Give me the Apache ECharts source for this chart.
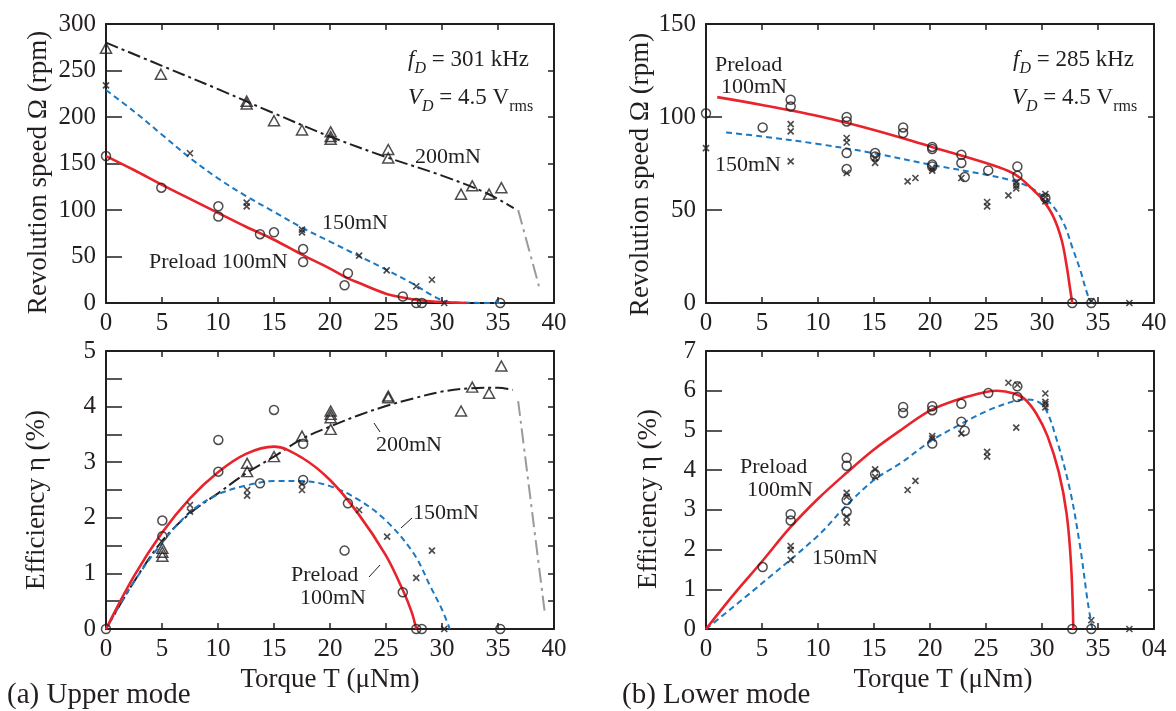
<!DOCTYPE html>
<html>
<head>
<meta charset="utf-8">
<script src="https://cdn.jsdelivr.net/npm/echarts@6/dist/echarts.min.js"></script>
<style>
html,body{margin:0;padding:0;background:#fff;}
#chart{width:1176px;height:711px;}
</style>
</head>
<body>
<div id="chart"></div>
<script>
// ---------- tick labels ----------
const xTickLabelsA = ['0','5','10','15','20','25','30','35','40'];
const xTickLabelsB = ['0','5','10','15','20','25','30','35','04'];

// ---------- (a) Upper mode : revolution speed (rpm) vs torque (uNm) ----------
const upSpdCirc100 = [[0,158],[4.94,124],[10.03,104],[10.03,93],[13.75,74],[15.0,76],[17.6,58],[17.6,44],[21.6,32],[21.3,19],[26.5,7],[27.7,0],[28.2,0],[35.2,0]];
const upSpdCross150 = [[0,234],[7.5,161],[12.56,108],[12.56,104],[17.5,79],[17.5,76],[22.6,51],[25.06,35],[27.7,18],[29.1,25],[30.2,0]];
const upSpdTri200 = [[0,274],[4.9,246],[12.56,217],[12.56,214],[15.0,196],[17.5,186],[20.06,184],[20.06,179],[20.06,176],[25.2,165],[25.2,156],[31.7,117],[32.7,126],[34.2,117],[35.3,124]];
const upSpdFit100 = [[0,158],[2.5,143],[5,127],[7.5,112],[10,97],[12.5,82],[15,68],[17.5,52],[20,37],[21.5,27],[22.5,22],[25,10],[26.5,6],[28,3],[30,1],[32.2,0]];
const upSpdFit150 = [[0,229],[2.5,206],[5,181],[7.5,156],[10,134],[12.5,115],[15,98],[17.5,81],[20,66],[22.5,51],[25,36],[27.5,20],[29,9],[30,3],[31,0.5],[35.5,0]];
const upSpdFit200 = [[0,280],[5,255],[10,230],[15,204],[20,179],[25,157],[30,137],[34,118],[36.4,102]];
const upSpdExt200 = [[36.8,100],[38.75,14]];

// ---------- (a) Upper mode : efficiency (%) ----------
const upEffCirc100 = [[0,0],[5.03,1.95],[5.03,1.67],[10.03,3.40],[10.03,2.83],[13.75,2.62],[15.0,3.94],[17.6,3.33],[17.6,2.68],[21.6,2.26],[21.3,1.41],[26.5,0.66],[27.7,0],[28.2,0],[35.2,0]];
const upEffCross150 = [[7.5,2.23],[7.5,2.11],[12.6,2.50],[12.6,2.40],[17.5,2.61],[17.5,2.50],[22.6,2.14],[25.1,1.66],[27.7,0.92],[29.1,1.41],[30.2,0]];
const upEffTri200 = [[5.03,1.45],[5.03,1.38],[5.03,1.31],[12.6,2.98],[12.6,2.83],[15,3.10],[17.5,3.47],[20.06,3.92],[20.06,3.86],[20.06,3.80],[20.06,3.59],[25.2,4.19],[25.2,4.16],[31.7,3.92],[32.7,4.35],[34.2,4.24],[35.3,4.73]];
const upEffFit100 = [[0,0],[2.5,0.95],[5,1.73],[7.5,2.35],[10,2.82],[12.5,3.15],[15,3.28],[17.5,3.08],[20,2.68],[22.5,2.08],[25,1.32],[26.5,0.7],[27.3,0.3],[27.7,0]];
const upEffFit150 = [[0,0],[2.5,0.85],[5,1.55],[7.5,2.1],[10,2.42],[12.5,2.58],[15,2.66],[17.5,2.66],[20,2.57],[22.5,2.33],[25,1.95],[27.5,1.35],[29,0.75],[30,0.35],[30.7,0]];
const upEffFit200 = [[0,0],[2.5,0.85],[5,1.58],[7.5,2.08],[10,2.44],[12.5,2.8],[15,3.1],[17.5,3.42],[20,3.64],[22.5,3.84],[25,4.01],[27.5,4.15],[30,4.27],[32.5,4.33],[35,4.34],[36.3,4.3]];
const upEffExt200 = [[36.8,4.1],[39.2,0.26]];

// ---------- (b) Lower mode : revolution speed (rpm) ----------
const loSpdCirc100 = [[0,102],[5.06,94.4],[7.56,109.3],[7.56,105.7],[12.56,100],[12.56,97.6],[12.56,80.6],[12.56,72],[15.1,80.6],[15.1,78.8],[17.6,94.4],[17.6,91.4],[20.2,83.9],[20.2,82.8],[20.2,74.4],[20.2,73.4],[22.8,79.7],[22.8,75.3],[23.1,67.7],[25.2,71.3],[27.8,73.4],[27.8,68.4],[30.3,56.5],[32.7,0],[34.4,0]];
const loSpdCross150 = [[0,83.3],[7.56,96.2],[7.56,92.3],[7.56,76.1],[12.56,88.7],[12.56,86.3],[12.56,69.9],[15.1,78],[15.1,75.3],[18.0,65.4],[18.7,67.2],[20.2,72.5],[20.2,71.2],[22.8,67.2],[25.1,54.3],[25.1,51.9],[27,57.9],[27.7,64.8],[27.7,63.1],[27.7,61.6],[30.3,58.6],[30.3,57],[30.3,54.6],[34.4,1],[37.8,0]];
const loSpdFit100 = [[1,110.7],[5,106.5],[10,100.5],[15,93],[20,84.2],[25,75.3],[27,71],[28,67.5],[29,62],[30,56],[31,46.6],[31.75,34],[32.2,20],[32.5,8],[32.7,0]];
const loSpdFit150 = [[1.8,91.7],[5,89.5],[10,85.5],[15,80.5],[20,74.4],[25,69],[27.5,65.5],[29,62],[30,57.5],[31,52],[32,42],[32.7,30],[33.4,18],[34.1,4],[34.5,0]];

// ---------- (b) Lower mode : efficiency (%) ----------
const loEffCirc100 = [[5.06,1.56],[7.56,2.89],[7.56,2.73],[12.56,4.31],[12.56,4.11],[12.56,3.25],[12.56,2.95],[15.1,3.90],[17.6,5.59],[17.6,5.44],[20.2,5.61],[20.2,5.51],[20.2,4.67],[22.8,5.67],[22.8,5.22],[23.1,4.99],[25.2,5.94],[27.8,6.11],[27.8,5.84],[32.7,0],[34.4,0]];
const loEffCross150 = [[7.56,2.09],[7.56,1.99],[7.56,1.74],[12.56,3.43],[12.56,3.33],[12.56,2.83],[12.56,2.68],[15.1,4.02],[15.1,3.83],[18.0,3.50],[18.7,3.73],[20.2,4.86],[20.2,4.80],[22.8,4.92],[25.1,4.46],[25.1,4.34],[27,6.20],[27.7,5.07],[27.8,6.15],[30.3,5.93],[30.3,5.72],[30.3,5.66],[30.3,5.58],[34.4,0.22],[37.8,0]];
const loEffFit100 = [[0,0],[2.5,0.88],[5,1.7],[7.5,2.55],[10,3.28],[12.5,3.92],[15,4.52],[17.5,5.03],[20,5.5],[22.5,5.78],[25,5.97],[26,6.0],[27.5,5.93],[28.5,5.78],[29.5,5.42],[30.5,4.85],[31.5,3.95],[32.2,2.9],[32.6,1.6],[32.8,0]];
const loEffFit150 = [[0,0],[5,1.15],[10,2.35],[12.5,3.1],[15,3.75],[17.5,4.2],[20,4.72],[22.5,5.12],[25,5.48],[27.5,5.74],[28.5,5.78],[29.5,5.74],[30.3,5.55],[31.3,4.78],[32.5,3.5],[33.4,2.08],[34.1,0.65],[34.5,0]];

// ---------- styling ----------
const FONT = "'Liberation Serif','Times New Roman',serif";
const INK = '#231f20';
const RED = '#e8232b';
const BLUE = '#1b78c2';

const chart = echarts.init(document.getElementById('chart'), null, {renderer:'canvas'});

const grids = [
  {left:106, top:24, width:448, height:279},
  {left:106, top:351, width:448, height:278},
  {left:706, top:24, width:448, height:279},
  {left:706, top:351, width:448, height:278}
];

function xPair(gi, labels, name, namePad) {
  const base = {type:'value', gridIndex:gi, min:0, max:40, interval:5, splitLine:{show:false},
    axisLine:{show:true, onZero:false, lineStyle:{color:INK, width:2}},
    axisTick:{show:true, inside:true, length:6, lineStyle:{color:INK, width:1.5}}};
  const bottom = Object.assign({}, base, {position:'bottom',
    axisLabel:{show:true, margin:8, color:INK, fontSize:25, fontFamily:FONT,
      formatter: v => labels[Math.round(v/5)]}});
  if (name) {
    Object.assign(bottom, {name:name, nameLocation:'middle', nameGap:37,
      nameTextStyle:{color:INK, fontSize:27, fontFamily:FONT, padding:namePad}});
  }
  const top = Object.assign({}, base, {position:'top', axisLabel:{show:false}});
  return [bottom, top];
}
function yPair(gi, max, tickInt, labelInt, name, gap, shift) {
  const base = {type:'value', gridIndex:gi, min:0, max:max, interval:tickInt, splitLine:{show:false},
    axisLine:{show:true, onZero:false, lineStyle:{color:INK, width:2}}};
  const left = Object.assign({}, base, {position:'left',
    axisTick:{show:true, inside:true, length:16, lineStyle:{color:INK, width:1.5}},
    axisLabel:{show:true, margin:10, color:INK, fontSize:25, fontFamily:FONT,
      formatter: v => (Math.abs(v/labelInt - Math.round(v/labelInt)) < 1e-6 ? String(Math.round(v)) : '')},
    name:name, nameLocation:'middle', nameGap:gap,
    nameTextStyle:{color:INK, fontSize:27, fontFamily:FONT, padding:[0, shift, 0, 0]}});
  const right = Object.assign({}, base, {position:'right',
    axisTick:{show:true, inside:true, length:6, lineStyle:{color:INK, width:1.5}},
    axisLabel:{show:false}});
  return [left, right];
}

const xAxis = [].concat(
  xPair(0, xTickLabelsA, null),
  xPair(1, xTickLabelsA, 'Torque T (\u03bcNm)', [0,0,0,0]),
  xPair(2, xTickLabelsA, null),
  xPair(3, xTickLabelsB, 'Torque T (\u03bcNm)', [0,0,0,26])
);
const yAxis = [].concat(
  yPair(0, 300, 50, 50, 'Revolution speed \u03a9 (rpm)', 54, 18),
  yPair(1, 5, 0.5, 1, 'Efficiency \u03b7 (%)', 56, 20),
  yPair(2, 150, 50, 50, 'Revolution speed \u03a9 (rpm)', 45, 22),
  yPair(3, 7, 1, 1, 'Efficiency \u03b7 (%)', 44, 18)
);

const hollow = {color:'rgba(0,0,0,0)', borderColor:INK, borderWidth:1.5};
function circ(gi, data) {
  return {type:'scatter', xAxisIndex:2*gi, yAxisIndex:2*gi, data:data, symbol:'circle', symbolSize:9,
    itemStyle:hollow, z:3, silent:true};
}
function tri(gi, data) {
  return {type:'scatter', xAxisIndex:2*gi, yAxisIndex:2*gi, data:data, symbol:'triangle', symbolSize:[11,10],
    itemStyle:hollow, z:3, silent:true};
}
function cross(gi, data) {
  return {type:'scatter', xAxisIndex:2*gi, yAxisIndex:2*gi, data:data, symbol:'path://M0 0L10 10M10 0L0 10', symbolSize:6,
    itemStyle:{color:'none', borderColor:INK, borderWidth:1.7}, z:3, silent:true};
}
function fit(gi, data, color, type, width) {
  return {type:'line', xAxisIndex:2*gi, yAxisIndex:2*gi, data:data, showSymbol:false, symbol:'none',
    smooth:0.35, lineStyle:{color:color, type:type, width:width}, z:2, silent:true};
}
const DASHDOT = [13,4,3,4];
const GRAYDD = [15,5,3,5];

const series = [
  fit(0, upSpdFit200, INK, DASHDOT, 2),
  fit(0, upSpdExt200, '#9a9a9a', GRAYDD, 2),
  fit(0, upSpdFit150, BLUE, [6,4], 2),
  fit(0, upSpdFit100, RED, 'solid', 2.6),
  tri(0, upSpdTri200), cross(0, upSpdCross150), circ(0, upSpdCirc100),

  fit(1, upEffFit200, INK, DASHDOT, 2),
  fit(1, upEffExt200, '#9a9a9a', GRAYDD, 2),
  fit(1, upEffFit150, BLUE, [6,4], 2),
  fit(1, upEffFit100, RED, 'solid', 2.6),
  tri(1, upEffTri200), cross(1, upEffCross150), circ(1, upEffCirc100),

  fit(2, loSpdFit150, BLUE, [6,4], 2),
  fit(2, loSpdFit100, RED, 'solid', 2.6),
  cross(2, loSpdCross150), circ(2, loSpdCirc100),

  fit(3, loEffFit150, BLUE, [6,4], 2),
  fit(3, loEffFit100, RED, 'solid', 2.6),
  cross(3, loEffCross150), circ(3, loEffCirc100)
];

function txt(x, y, text, size, align) {
  return {type:'text', x:x, y:y, silent:true,
    style:{text:text, fontSize:size||22, fontFamily:FONT, fill:INK, align:align||'left', verticalAlign:'middle'}};
}
function richTxt(x, y, text) {
  return {type:'text', x:x, y:y, silent:true,
    style:{text:text, fontSize:22, fontFamily:FONT, fill:INK, align:'left', verticalAlign:'middle',
      rich:{
        i:{fontSize:23, fontStyle:'italic', fontFamily:FONT, fill:INK, lineHeight:28, verticalAlign:'bottom'},
        n:{fontSize:23, fontFamily:FONT, fill:INK, lineHeight:28, verticalAlign:'bottom'},
        s:{fontSize:16, fontStyle:'italic', fontFamily:FONT, fill:INK, lineHeight:22, verticalAlign:'bottom', padding:[0,0,-6,0]},
        r:{fontSize:16, fontFamily:FONT, fill:INK, lineHeight:22, verticalAlign:'bottom', padding:[0,0,-6,0]}
      }}};
}
function lead(x1, y1, x2, y2) {
  return {type:'line', silent:true, shape:{x1:x1, y1:y1, x2:x2, y2:y2}, style:{stroke:INK, lineWidth:1}};
}

const graphic = [
  // (a) speed
  richTxt(408, 57, '{i|f}{s|D}{n| = 301 kHz}'),
  richTxt(408, 95, '{i|V}{s|D}{n| = 4.5 V}{r|rms}'),
  txt(415, 157, '200mN'),
  txt(322, 223, '150mN'),
  txt(149, 262, 'Preload 100mN'),
  // (a) efficiency
  txt(376, 445, '200mN'),
  lead(374, 423, 380, 432),
  txt(413, 513, '150mN'),
  lead(401, 528, 412, 518),
  txt(291, 575, 'Preload'),
  txt(300, 598, '100mN'),
  lead(369, 577, 380, 565),
  // (b) speed
  txt(715, 65, 'Preload'),
  txt(721, 87, '100mN'),
  txt(715, 165, '150mN'),
  richTxt(1013, 57, '{i|f}{s|D}{n| = 285 kHz}'),
  richTxt(1012, 95, '{i|V}{s|D}{n| = 4.5 V}{r|rms}'),
  // (b) efficiency
  txt(740, 467, 'Preload'),
  txt(747, 490, '100mN'),
  txt(812, 558, '150mN'),
  // panel captions
  txt(7, 695, '(a) Upper mode', 29),
  txt(622, 695, '(b) Lower mode', 29)
];

chart.setOption({
  animation:false,
  backgroundColor:'#ffffff',
  grid:grids,
  xAxis:xAxis,
  yAxis:yAxis,
  series:series,
  graphic:graphic
});
</script>
</body>
</html>
